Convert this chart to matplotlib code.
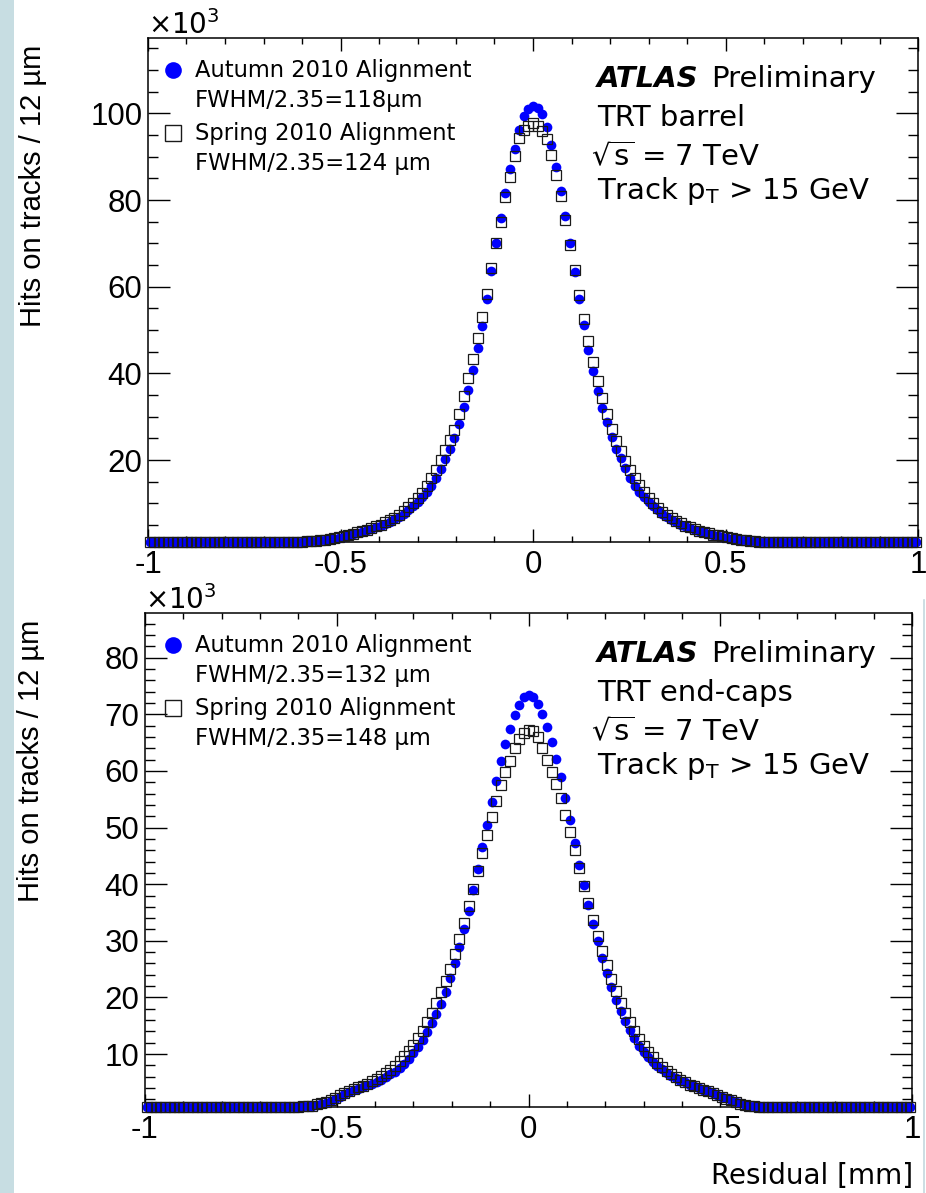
import numpy as np
import matplotlib
matplotlib.use('Agg')
import matplotlib.pyplot as plt
from matplotlib.ticker import MultipleLocator, FuncFormatter
from matplotlib.patches import Rectangle
from matplotlib.lines import Line2D

plt.rcParams['font.family'] = ['DejaVu Sans']
plt.rcParams['axes.unicode_minus'] = False
plt.rcParams['mathtext.fontset'] = 'dejavusans'

# residual bins, 12 um wide, centred on 0 (k = -83 ... 83)
bin_centres = np.arange(-83, 84) * 0.012

# hits on tracks [x10^3]
barrel_autumn = [
    1.1, 1.1, 1.1, 1.1, 1.1, 1.1, 1.1, 1.1, 1.1, 1.1, 1.1, 1.1, 1.1, 1.1, 1.1, 1.1, 1.1,
    1.1, 1.1, 1.1, 1.1, 1.1, 1.1, 1.1, 1.1, 1.1, 1.1, 1.1, 1.1, 1.1, 1.1, 1.1, 1.1,
    1.2, 1.25, 1.3, 1.4, 1.5, 1.6, 1.75, 1.9, 2.1, 2.3,
    2.6, 2.9, 3.2, 3.5, 3.8, 4.1, 4.5, 4.9, 5.3, 5.8,
    6.3, 6.9, 7.6, 8.4, 9.3, 10.3, 11.4, 12.7, 14.0, 15.8,
    18.0, 20.3, 22.5, 25.1, 28.4, 32.2, 36.1, 40.8, 45.9, 51.0,
    57.2, 63.6, 70.0, 75.9, 81.6, 87.2, 91.9, 96.1, 99.4, 101.1,
    101.7,
    101.3, 99.8, 96.8, 92.6, 87.6, 82.1, 76.3, 70.1, 63.4, 57.1,
    51.2, 45.5, 40.6, 35.9, 32.0, 28.7, 25.3, 22.6, 20.4, 18.1,
    15.9, 14.0, 12.6, 11.4, 10.3, 9.3, 8.4, 7.5, 6.8, 6.2,
    5.6, 5.1, 4.7, 4.3, 3.9, 3.6, 3.3, 3.0, 2.7, 2.5,
    2.3, 2.1, 1.9, 1.7, 1.55, 1.45, 1.35, 1.3, 1.2, 1.15,
    1.1, 1.1, 1.1, 1.1, 1.1, 1.1, 1.1, 1.1, 1.1, 1.1, 1.1, 1.1, 1.1, 1.1, 1.1, 1.1, 1.1,
    1.1, 1.1, 1.1, 1.1, 1.1, 1.1, 1.1, 1.1, 1.1, 1.1, 1.1, 1.1, 1.1, 1.1, 1.1, 1.1,
]
barrel_spring = [
    1.1, 1.1, 1.1, 1.1, 1.1, 1.1, 1.1, 1.1, 1.1, 1.1, 1.1, 1.1, 1.1, 1.1, 1.1, 1.1, 1.1,
    1.1, 1.1, 1.1, 1.1, 1.1, 1.1, 1.1, 1.1, 1.1, 1.1, 1.1, 1.1, 1.1, 1.1, 1.1, 1.1,
    1.2, 1.25, 1.3, 1.4, 1.5, 1.65, 1.8, 2.0, 2.2, 2.4,
    2.7, 3.0, 3.3, 3.6, 3.9, 4.3, 4.7, 5.1, 5.6, 6.1,
    6.7, 7.4, 8.2, 9.1, 10.1, 11.2, 12.5, 14.0, 15.8, 17.8,
    20.0, 22.3, 24.6, 27.0, 30.6, 34.8, 39.0, 43.4, 48.1, 53.0,
    58.4, 64.3, 70.1, 75.0, 80.6, 85.3, 90.1, 94.3, 96.2, 97.0,
    97.8,
    97.0, 96.0, 94.0, 90.3, 85.8, 80.9, 75.4, 69.7, 63.9, 58.2,
    52.6, 47.4, 42.6, 38.3, 34.3, 30.6, 27.2, 24.4, 22.1, 19.9,
    17.8, 15.9, 14.2, 12.7, 11.3, 10.1, 9.0, 8.1, 7.3, 6.6,
    6.0, 5.4, 4.9, 4.5, 4.1, 3.7, 3.4, 3.1, 2.8, 2.6,
    2.4, 2.2, 2.0, 1.8, 1.65, 1.5, 1.4, 1.3, 1.2, 1.15,
    1.1, 1.1, 1.1, 1.1, 1.1, 1.1, 1.1, 1.1, 1.1, 1.1, 1.1, 1.1, 1.1, 1.1, 1.1, 1.1, 1.1,
    1.1, 1.1, 1.1, 1.1, 1.1, 1.1, 1.1, 1.1, 1.1, 1.1, 1.1, 1.1, 1.1, 1.1, 1.1, 1.1,
]
endcap_autumn = [
    0.7, 0.7, 0.7, 0.7, 0.7, 0.7, 0.7, 0.7, 0.7, 0.7, 0.7, 0.7, 0.7, 0.7, 0.7, 0.7, 0.7,
    0.7, 0.7, 0.7, 0.7, 0.7, 0.7, 0.7, 0.7, 0.7, 0.7, 0.7, 0.7, 0.7, 0.7, 0.7, 0.7,
    0.7, 0.75, 0.8, 0.9, 1.0, 1.2, 1.4, 1.7, 2.1, 2.5,
    2.9, 3.3, 3.6, 3.9, 4.2, 4.5, 4.8, 5.1, 5.5, 5.9,
    6.4, 6.9, 7.5, 8.2, 9.1, 10.1, 11.2, 12.5, 13.9, 15.4,
    17.0, 18.9, 21.0, 23.4, 26.0, 28.9, 32.0, 35.3, 39.0, 42.7,
    46.5, 50.5, 54.5, 58.2, 61.8, 64.8, 67.5, 69.8, 71.7, 73.0,
    73.5,
    73.0, 71.8, 70.0, 67.8, 65.2, 62.2, 59.0, 55.3, 51.3, 47.3,
    43.4, 39.8, 36.3, 33.0, 29.9, 27.0, 24.3, 21.8, 19.6, 17.6,
    15.8, 14.2, 12.8, 11.5, 10.4, 9.4, 8.6, 7.9, 7.3, 6.7,
    6.2, 5.7, 5.3, 5.0, 4.6, 4.3, 4.0, 3.7, 3.4, 3.1,
    2.8, 2.5, 2.2, 1.9, 1.6, 1.3, 1.0, 0.85, 0.75, 0.7,
    0.7, 0.7, 0.7, 0.7, 0.7, 0.7, 0.7, 0.7, 0.7, 0.7, 0.7, 0.7, 0.7, 0.7, 0.7, 0.7, 0.7,
    0.7, 0.7, 0.7, 0.7, 0.7, 0.7, 0.7, 0.7, 0.7, 0.7, 0.7, 0.7, 0.7, 0.7, 0.7, 0.7,
]
endcap_spring = [
    0.7, 0.7, 0.7, 0.7, 0.7, 0.7, 0.7, 0.7, 0.7, 0.7, 0.7, 0.7, 0.7, 0.7, 0.7, 0.7, 0.7,
    0.7, 0.7, 0.7, 0.7, 0.7, 0.7, 0.7, 0.7, 0.7, 0.7, 0.7, 0.7, 0.7, 0.7, 0.7, 0.7,
    0.7, 0.75, 0.8, 0.9, 1.1, 1.3, 1.6, 1.9, 2.3, 2.7,
    3.1, 3.4, 3.8, 4.1, 4.4, 4.8, 5.2, 5.6, 6.1, 6.6,
    7.2, 7.9, 8.7, 9.6, 10.6, 11.6, 12.8, 14.1, 15.6, 17.2,
    19.0, 20.9, 22.9, 25.1, 27.6, 30.3, 33.1, 36.1, 39.2, 42.3,
    45.5, 48.7, 51.8, 54.7, 57.6, 59.8, 61.8, 64.0, 65.7, 66.7,
    67.2,
    67.0, 66.0, 64.0, 61.9, 59.8, 57.7, 55.2, 52.3, 49.2, 46.0,
    42.8, 39.7, 36.7, 33.7, 30.9, 28.2, 25.7, 23.3, 21.1, 19.1,
    17.3, 15.6, 14.1, 12.7, 11.5, 10.4, 9.4, 8.5, 7.7, 7.0,
    6.4, 5.9, 5.4, 5.0, 4.6, 4.3, 4.0, 3.7, 3.4, 3.1,
    2.8, 2.5, 2.1, 1.8, 1.5, 1.2, 1.0, 0.85, 0.75, 0.7,
    0.7, 0.7, 0.7, 0.7, 0.7, 0.7, 0.7, 0.7, 0.7, 0.7, 0.7, 0.7, 0.7, 0.7, 0.7, 0.7, 0.7,
    0.7, 0.7, 0.7, 0.7, 0.7, 0.7, 0.7, 0.7, 0.7, 0.7, 0.7, 0.7, 0.7, 0.7, 0.7, 0.7,
]

panels = [
    dict(autumn=barrel_autumn, spring=barrel_spring, region='TRT barrel',
         fwhm=('FWHM/2.35=118\u00b5m', 'FWHM/2.35=124 \u00b5m'),
         ylim=(1.1, 117.4), major=20, minor=5),
    dict(autumn=endcap_autumn, spring=endcap_spring, region='TRT end-caps',
         fwhm=('FWHM/2.35=132 \u00b5m', 'FWHM/2.35=148 \u00b5m'),
         ylim=(0.65, 87.9), major=10, minor=2),
]

W, H = 926, 1193
fig = plt.figure(figsize=(W / 100, H / 100), dpi=100)

# slide edge strip on the left
fig.patches.append(Rectangle((0, 0), 14 / W, 1, transform=fig.transFigure,
                             facecolor='#c7dde2', edgecolor='none', zorder=0))
fig.add_artist(Line2D([924 / W, 924 / W], [0, 1 - 600 / H], transform=fig.transFigure,
                      color='#c3d8de', lw=1.2))

# axes boxes in pixels: left, right, top, bottom
boxes = [(148, 918, 38, 542), (145, 912, 613, 1107)]
axes = []
for (l, r, t, b) in boxes:
    axes.append(fig.add_axes([l / W, 1 - b / H, (r - l) / W, (b - t) / H]))

fig.canvas.draw()
renderer = fig.canvas.get_renderer()

for ax, p, (l, r, t, b) in zip(axes, panels, boxes):
    ya = np.maximum(p['autumn'], p['ylim'][0])
    ys = np.maximum(p['spring'], p['ylim'][0])
    ax.plot(bin_centres, ya, 'o', ms=7.0, color='#0000ff', mec='#0000ff', mew=0,
            clip_on=False, zorder=3)
    ax.plot(bin_centres, ys, 's', ms=6.6, mfc='none', mec='#1a1a1a', mew=0.9,
            clip_on=False, zorder=4)

    ax.set_xlim(-1, 1)
    ax.set_ylim(*p['ylim'])
    ax.xaxis.set_major_locator(MultipleLocator(0.5))
    ax.xaxis.set_minor_locator(MultipleLocator(0.1))
    ax.yaxis.set_major_locator(MultipleLocator(p['major']))
    ax.yaxis.set_minor_locator(MultipleLocator(p['minor']))
    ax.xaxis.set_major_formatter(FuncFormatter(lambda v, pos: '%g' % v))
    ax.yaxis.set_major_formatter(FuncFormatter(lambda v, pos: '%g' % v))
    ax.tick_params(axis='both', which='both', direction='in', top=True, right=True,
                   labelsize=22.5, width=1.0)
    ax.tick_params(axis='x', which='major', length=9.5, pad=6)
    ax.tick_params(axis='x', which='minor', length=4.5)
    ax.tick_params(axis='y', which='major', length=16, pad=4)
    ax.tick_params(axis='y', which='minor', length=7.5)
    for lab in ax.get_xticklabels() + ax.get_yticklabels():
        lab.set_family('Liberation Sans')
    for s in ax.spines.values():
        s.set_linewidth(1.1)

    ax.text(0.0, 1.008, '\u00d710$^{3}$', transform=ax.transAxes, fontsize=20,
            ha='left', va='baseline')

    # legend, marker lined up with the first line of each entry
    ah = b - t
    def fy(py):
        return (b - py) / ah
    def fx(px):
        return (px - l) / (r - l)
    off = t - 38
    ax.plot([fx(172.5)], [fy(70 + off)], 'o', ms=12, color='#0000ff', mew=0,
            transform=ax.transAxes, clip_on=False)
    ax.plot([fx(172.5)], [fy(133 + off)], 's', ms=11, mfc='none', mec='#1a1a1a',
            mew=1.0, transform=ax.transAxes, clip_on=False)
    leg_lines = ['Autumn 2010 Alignment', p['fwhm'][0],
                 'Spring 2010 Alignment', p['fwhm'][1]]
    for txt, py in zip(leg_lines, [76.7, 106.7, 140, 170]):
        ax.text(fx(195), fy(py + off), txt, transform=ax.transAxes, fontsize=16.3,
                ha='left', va='baseline')

    # ATLAS label block
    tx = fx(597)
    t1 = ax.text(tx, fy(86.7 + off), 'ATLAS', transform=ax.transAxes, fontsize=21,
                 fontweight='bold', fontstyle='italic', ha='left', va='baseline')
    bb = t1.get_window_extent(renderer)
    x2 = ax.transAxes.inverted().transform((bb.x1 + 12, bb.y0))[0]
    ax.text(x2, fy(86.7 + off), 'Preliminary', transform=ax.transAxes, fontsize=21,
            ha='left', va='baseline')
    ax.text(tx, fy(126 + off), p['region'], transform=ax.transAxes, fontsize=21,
            ha='left', va='baseline')
    ax.text(tx - 0.008, fy(166 + off), r'$\sqrt{\mathregular{s}}$ = 7 TeV',
            transform=ax.transAxes, fontsize=21, ha='left', va='baseline')
    ax.text(tx, fy(199 + off), r'Track p$_{\mathregular{T}}$ > 15 GeV',
            transform=ax.transAxes, fontsize=21, ha='left', va='baseline')

# axis titles, ROOT style (aligned to the end of the axis)
fig.text(19 / W, 1 - 45 / H, 'Hits on tracks / 12 \u00b5m', rotation=90,
         ha='left', va='top', fontsize=21, family='Liberation Sans')
fig.text(17 / W, 1 - 620 / H, 'Hits on tracks / 12 \u00b5m', rotation=90,
         ha='left', va='top', fontsize=21, family='Liberation Sans')
fig.text(913 / W, 1 - 1184 / H, 'Residual [mm]', ha='right', va='baseline',
         fontsize=20)

fig.savefig('out.png', dpi=100)
